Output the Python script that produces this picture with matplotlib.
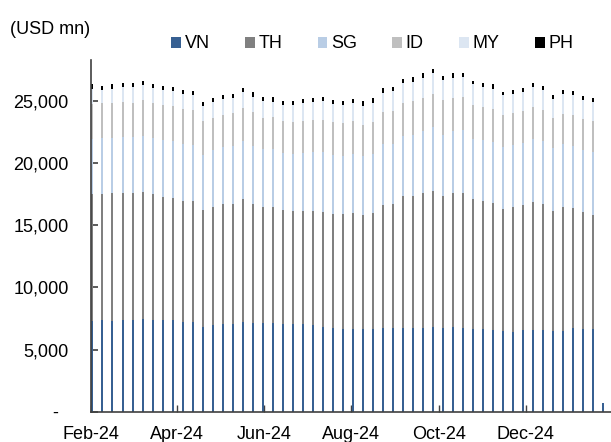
import numpy as np
import pandas as pd
import matplotlib
matplotlib.use("Agg")
import matplotlib.pyplot as plt
import matplotlib.dates as mdates
from matplotlib.ticker import FuncFormatter

plt.rcParams["font.family"] = ["Liberation Sans", "DejaVu Sans"]

# weekly observations, first week ending 2 Feb 2024
weeks = pd.date_range("2024-02-02", periods=52, freq="7D")

VN = [7260, 7340, 7310, 7390, 7370, 7450, 7420, 7390, 7390, 7230, 7230, 6850, 6960,
      7040, 7070, 7230, 7150, 7120, 7120, 7070, 7040, 7070, 6990, 6800, 6720, 6640,
      6640, 6640, 6640, 6750, 6750, 6770, 6750, 6750, 6850, 6770, 6800, 6750, 6640,
      6640, 6610, 6510, 6450, 6560, 6560, 6560, 6510, 6530, 6770, 6690, 6690, 700]
TH = [10270, 10190, 10270, 10240, 10270, 10240, 10080, 9920, 9810, 9760, 9730, 9380, 9490,
      9650, 9680, 9870, 9600, 9380, 9380, 9170, 9090, 9060, 9190, 9300, 9220, 9250,
      9380, 9220, 9380, 9920, 9950, 10560, 10640, 10830, 10940, 10620, 10810, 10860, 10460,
      10350, 10160, 9780, 10000, 10050, 10300, 10130, 9680, 9950, 9600, 9350, 9170, 0]
SG = [4440, 4490, 4460, 4490, 4440, 4540, 4520, 4540, 4600, 4570, 4540, 4440, 4600,
      4600, 4600, 4680, 4650, 4620, 4620, 4600, 4650, 4700, 4700, 4840, 4760, 4730,
      4730, 4700, 4700, 4840, 4870, 4840, 4920, 5030, 5110, 4920, 4970, 5030, 4890,
      4870, 4970, 5050, 5030, 5050, 5110, 5080, 5030, 5050, 5050, 5030, 5050, 0]
ID = [2770, 2800, 2820, 2800, 2800, 2820, 2820, 2800, 2770, 2800, 2800, 2690, 2630,
      2630, 2660, 2660, 2690, 2550, 2580, 2530, 2530, 2550, 2630, 2530, 2610, 2580,
      2610, 2550, 2630, 2610, 2630, 2660, 2660, 2660, 2660, 2740, 2660, 2690, 2690,
      2660, 2660, 2530, 2550, 2530, 2550, 2500, 2450, 2450, 2450, 2500, 2500, 0]
MY = [1260, 1080, 1130, 1240, 1260, 1210, 1210, 1210, 1210, 1210, 1210, 1210, 1240,
      1260, 1240, 1260, 1260, 1320, 1260, 1320, 1340, 1450, 1430, 1510, 1450, 1510,
      1510, 1510, 1510, 1560, 1610, 1590, 1590, 1610, 1670, 1610, 1640, 1640, 1670,
      1610, 1590, 1590, 1530, 1560, 1590, 1610, 1530, 1610, 1590, 1510, 1510, 0]
PH = [350, 320, 350, 270, 300, 320, 350, 350, 350, 320, 320, 350, 350,
      350, 350, 320, 350, 350, 350, 320, 320, 300, 320, 320, 320, 320,
      320, 350, 350, 350, 350, 350, 350, 400, 380, 350, 380, 320, 300,
      320, 350, 300, 320, 320, 350, 320, 320, 300, 320, 320, 320, 0]

series = [("VN", VN, "#376092"), ("TH", TH, "#808080"), ("SG", SG, "#B9CDE5"),
          ("ID", ID, "#BFBFBF"), ("MY", MY, "#DCE6F2"), ("PH", PH, "#000000")]

fig = plt.figure(figsize=(6.11, 4.42), dpi=100)
ax = fig.add_axes([0.149, 0.0686, 0.851, 0.7954])

bottom = np.zeros(len(weeks))
handles = []
for name, vals, col in series:
    vals = np.array(vals, dtype=float)
    b = ax.bar(weeks, vals, bottom=bottom, width=1.4, color=col, label=name,
               linewidth=0, zorder=2)
    handles.append(b)
    bottom += vals

ax.set_xlim(pd.Timestamp("2024-02-01"), pd.Timestamp("2025-01-29 12:00"))
ax.set_ylim(0, 28300)
ax.set_yticks([0, 5000, 10000, 15000, 20000, 25000])
ax.yaxis.set_major_formatter(FuncFormatter(lambda v, p: "-  " if v == 0 else f"{int(v):,}"))

ax.xaxis.set_major_locator(mdates.MonthLocator(bymonth=[2, 4, 6, 8, 10, 12]))
ax.xaxis.set_major_formatter(mdates.DateFormatter("%b-%y"))

for s in ["top", "right"]:
    ax.spines[s].set_visible(False)
ax.spines["left"].set_color("#404040")
ax.spines["bottom"].set_color("#404040")
ax.spines["left"].set_linewidth(1.2)
ax.spines["bottom"].set_linewidth(1.2)
ax.tick_params(axis="y", direction="in", length=5, width=1.2, color="#404040",
               labelsize=13, pad=16)
ax.tick_params(axis="x", direction="in", length=5, width=1.0, color="#404040",
               labelsize=13, pad=10)

fig.text(10 / 611, 1 - 30 / 442, "(USD mn)", fontsize=13, va="center", ha="left")
fig.legend(handles=handles, labels=[s[0] for s in series], ncol=6, frameon=False,
           loc="center left", bbox_to_anchor=(171 / 611, 1 - 44 / 442),
           fontsize=13, handlelength=0.55, handleheight=0.55, handletextpad=0.2,
           columnspacing=1.95, borderpad=0, borderaxespad=0)

fig.savefig("out.png", dpi=100)
